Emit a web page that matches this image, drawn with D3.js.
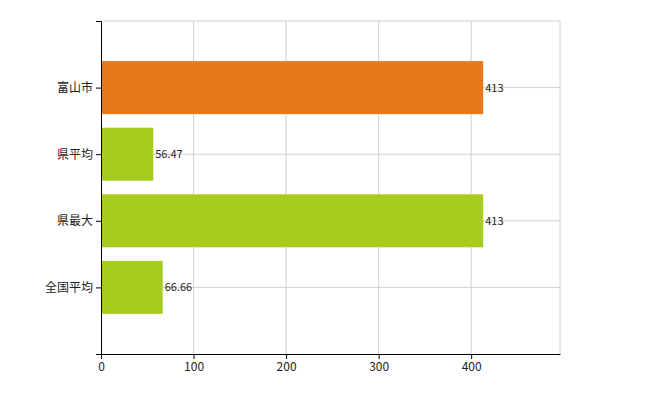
<!DOCTYPE html>
<html><head><meta charset="utf-8">
<script src="https://cdn.jsdelivr.net/npm/d3@7"></script>
<style>body{margin:0;background:#fff}</style></head>
<body><svg id="c" width="650" height="400"></svg>
<script>
const categories=["富山市","県平均","県最大","全国平均"];
const values=[413,56.47,413,66.66];
const labels=["413","56.47","413","66.66"];
const colors=["#E8791A","#A8CC1E","#A8CC1E","#A8CC1E"];
const xTicks=[0,100,200,300,400];

(function(){
const svg=d3.select("#c");
const mL=101,mR=560,mT=21,mB=354;
const x=d3.scaleLinear().domain([0,496]).range([mL,mR]);
const y=d3.scaleLinear().domain([0,5]).range([mT,mB]);
const font="'Meiryo','Noto Sans CJK JP',sans-serif";

svg.selectAll(".vg").data(xTicks.slice(1).concat([496])).enter().append("line")
 .attr("x1",d=>x(d)).attr("x2",d=>x(d)).attr("y1",mT).attr("y2",mB)
 .attr("stroke","#d0d0d0").attr("stroke-width",1);
svg.selectAll(".hg").data([0,1,2,3,4]).enter().append("line")
 .attr("x1",mL).attr("x2",mR).attr("y1",d=>y(d)).attr("y2",d=>y(d))
 .attr("stroke","#d0d0d0").attr("stroke-width",1);

const bh=53;
svg.selectAll(".bar").data(values).enter().append("rect")
 .attr("x",mL).attr("y",(d,i)=>y(i+1)-bh/2).attr("width",d=>x(d)-mL).attr("height",bh)
 .attr("fill",(d,i)=>colors[i]);
svg.selectAll(".lbl").data(values).enter().append("text")
 .attr("x",d=>x(d)+2).attr("y",(d,i)=>y(i+1)+4).text((d,i)=>labels[i])
 .attr("font-size",11).attr("font-family",font).attr("fill","#222");

const xa=svg.append("g").attr("transform",`translate(0,${mB})`)
 .call(d3.axisBottom(x).tickValues(xTicks).tickSize(5).tickSizeOuter(0));
xa.select(".domain").attr("stroke","#000");
xa.selectAll("text").attr("font-size",12).attr("font-family",font).attr("fill","#222");

const ya=svg.append("g").attr("transform",`translate(${mL},0)`)
 .call(d3.axisLeft(y).tickValues([1,2,3,4]).tickFormat(d=>categories[d-1]).tickSize(5).tickSizeOuter(5));
ya.select(".domain").attr("stroke","#000");
ya.selectAll("text").attr("font-size",12).attr("font-family",font).attr("fill","#222");
})();
</script></body></html>
